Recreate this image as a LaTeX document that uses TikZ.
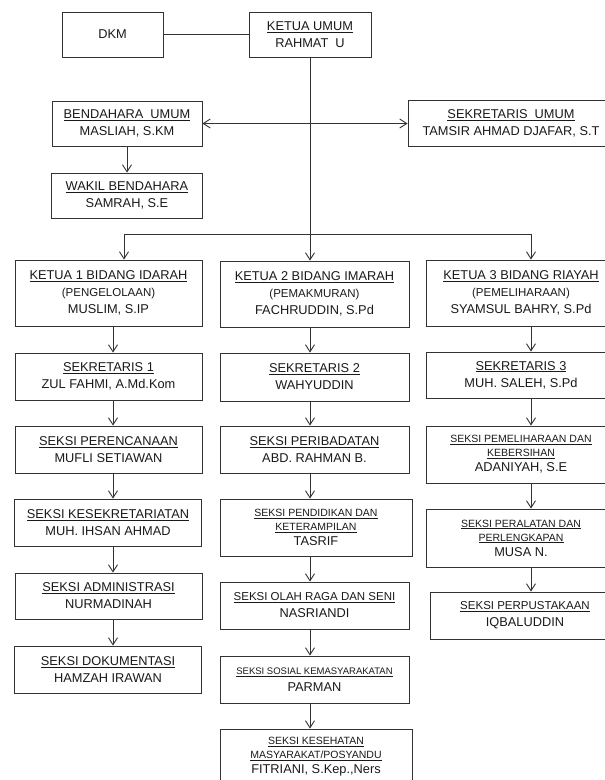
\documentclass[tikz,border=0pt]{standalone}
\usepackage{fontspec}
\setmainfont{Liberation Sans}
\usetikzlibrary{arrows.meta}

% smaller underlined titles
\newcommand{\kecil}[1]{{\fontsize{10.5}{14}\selectfont\underline{#1}}}

\tikzset{
    jabatan/.style={draw=black!80, line width=0.9pt, align=center, inner sep=2pt,
        text=black!90, font=\fontsize{12.8}{17}\selectfont},
    kolom1/.style={jabatan, minimum width=187},
    kolom2/.style={jabatan, minimum width=189},
    kolom3/.style={jabatan, minimum width=190},
    garis/.style={draw=black!80, line width=0.9pt}
}

\begin{document}
\begin{tikzpicture}[x=1pt, y=-1pt, >={Straight Barb[length=7pt,width=9pt]}]
\useasboundingbox (0,0) rectangle (605,780);

% Top row
\node[jabatan, minimum width=101, minimum height=45] (dkm) at (112.5,34.5) {DKM};
\node[jabatan, minimum width=122, minimum height=45] (ketum) at (310,34.5) {\underline{KETUA UMUM}\\RAHMAT\ \ U};

% Bendahara and Sekretaris Umum
\node[jabatan, minimum width=150, minimum height=45] (bendum) at (127,123.5) {\underline{BENDAHARA\ \ UMUM}\\MASLIAH, S.KM};
\node[jabatan, minimum width=206, minimum height=46] (sekum) at (511,123.5) {\underline{SEKRETARIS\ \ UMUM}\\TAMSIR AHMAD DJAFAR, S.T};
\node[jabatan, minimum width=151, minimum height=45] (wakil) at (127,195.5) {\underline{WAKIL BENDAHARA}\\SAMRAH, S.E};

% Column 1 (Idarah)
\node[kolom1, minimum height=66] (ketua1) at (108.5,293) {\underline{KETUA 1 BIDANG IDARAH}\\{\fontsize{11.5}{17}\selectfont (PENGELOLAAN)}\\MUSLIM, S.IP};
\node[kolom1, minimum height=47] (sek1) at (108.5,376.5) {\underline{SEKRETARIS 1}\\ZUL FAHMI, A.Md.Kom};
\node[kolom1, minimum height=47] (peren) at (108.5,449.5) {\underline{SEKSI PERENCANAAN}\\MUFLI SETIAWAN};
\node[kolom1, minimum height=47] (kesek) at (108,522.5) {\underline{SEKSI KESEKRETARIATAN}\\MUH. IHSAN AHMAD};
\node[kolom1, minimum height=46] (admin) at (108.5,596) {\underline{SEKSI ADMINISTRASI}\\NURMADINAH};
\node[kolom1, minimum height=47] (dok) at (108,669.5) {\underline{SEKSI DOKUMENTASI}\\HAMZAH IRAWAN};

% Column 2 (Imarah)
\node[kolom2, minimum height=66] (ketua2) at (314.5,294) {\underline{KETUA 2 BIDANG IMARAH}\\{\fontsize{11.5}{17}\selectfont (PEMAKMURAN)}\\FACHRUDDIN, S.Pd};
\node[kolom2, minimum height=48] (sek2) at (314.5,377) {\underline{SEKRETARIS 2}\\WAHYUDDIN};
\node[kolom2, minimum height=47] (ibadah) at (314.5,449.5) {\underline{SEKSI PERIBADATAN}\\ABD. RAHMAN B.};
\node[kolom2, minimum width=192, minimum height=57] (didik) at (316,527.5) {\kecil{SEKSI PENDIDIKAN DAN}\\[-3pt]\kecil{KETERAMPILAN}\\[-2pt]TASRIF};
\node[kolom2, minimum height=47] (olahraga) at (314.5,605.5) {{\fontsize{11.5}{17}\selectfont\underline{SEKSI OLAH RAGA DAN SENI}}\\NASRIANDI};
\node[kolom2, minimum height=47] (sosial) at (314.5,679.5) {{\fontsize{9.5}{17}\selectfont\underline{SEKSI SOSIAL KEMASYARAKATAN}}\\PARMAN};
\node[kolom2, minimum width=192, minimum height=56] (sehat) at (316,757) {\kecil{SEKSI KESEHATAN}\\[-3pt]\kecil{MASYARAKAT/POSYANDU}\\[-2pt]FITRIANI, S.Kep.,Ners};

% Column 3 (Riayah)
\node[kolom3, minimum height=66] (ketua3) at (521,293) {\underline{KETUA 3 BIDANG RIAYAH}\\{\fontsize{11.5}{17}\selectfont (PEMELIHARAAN)}\\SYAMSUL BAHRY, S.Pd};
\node[kolom3, minimum height=46] (sek3) at (521,375) {\underline{SEKRETARIS 3}\\MUH. SALEH, S.Pd};
\node[kolom3, minimum height=57] (pelihara) at (521,454.5) {\kecil{SEKSI PEMELIHARAAN DAN}\\[-3pt]\kecil{KEBERSIHAN}\\[-2pt]ADANIYAH, S.E};
\node[kolom3, minimum height=58] (alat) at (521,538) {\kecil{SEKSI PERALATAN DAN}\\[-3pt]\kecil{PERLENGKAPAN}\\[-2pt]MUSA N.};
\node[kolom3, minimum height=47] (pustaka) at (525,615.5) {{\fontsize{11.5}{17}\selectfont\underline{SEKSI PERPUSTAKAAN}}\\IQBALUDDIN};

% Lines at the top
\draw[garis] (dkm) -- (ketum);
\draw[garis, <->] (bendum) -- (sekum);
\draw[garis, ->] (bendum) -- (wakil);

% Trunk and branch line
\coordinate (poros1) at (113,0);
\coordinate (poros2) at (310,0);
\coordinate (poros3) at (531,0);
\coordinate (cab1) at (124,234);
\coordinate (cab3) at (poros3 |- cab1);
\draw[garis, ->] (ketum.south) -- (ketum.south |- ketua2.north);
\draw[garis] (cab1) -- (cab3);
\draw[garis, ->] (cab1) -- (cab1 |- ketua1.north);
\draw[garis, ->] (cab3) -- (cab3 |- ketua3.north);

% Arrows down each column
\foreach \p/\atas/\bawah in {1/ketua1/sek1, 1/sek1/peren, 1/peren/kesek, 1/kesek/admin, 1/admin/dok,
    2/ketua2/sek2, 2/sek2/ibadah, 2/ibadah/didik, 2/didik/olahraga, 2/olahraga/sosial, 2/sosial/sehat,
    3/ketua3/sek3, 3/sek3/pelihara, 3/pelihara/alat, 3/alat/pustaka}
{
    \draw[garis, ->] (poros\p |- \atas.south) -- (poros\p |- \bawah.north);
}

\end{tikzpicture}
\end{document}
